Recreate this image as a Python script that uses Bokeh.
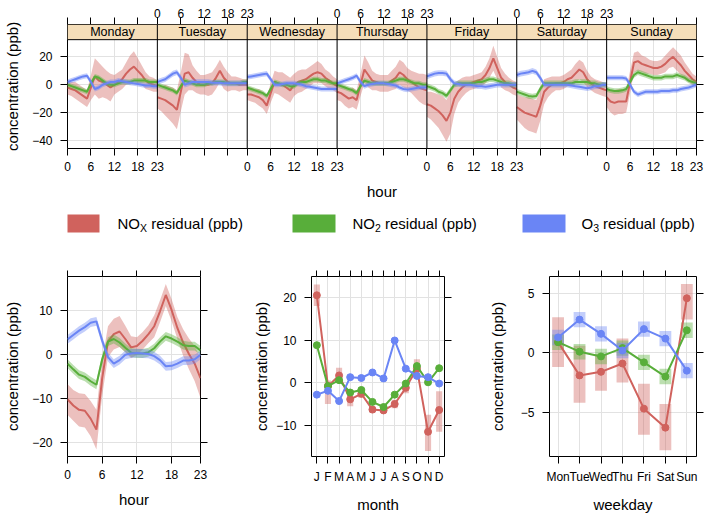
import numpy as np
from bokeh.plotting import figure
from bokeh.layouts import column, row
from bokeh.models import Range1d, FixedTicker, LinearAxis
from bokeh.embed import file_html
from bokeh.resources import INLINE
from bokeh.core.properties import value

FONT = "Liberation Sans"
RED, GREEN, BLUE = "#D0625D", "#58AE3A", "#6A85F5"
STRIP = "#F5DEB9"
GRID = "#E2E2E2"

# ---------------- data ----------------
days = ["Monday", "Tuesday", "Wednesday", "Thursday", "Friday", "Saturday", "Sunday"]
hours = list(range(24))
hour_ticks = [0, 6, 12, 18, 23]

nox_day = [
    [-2, -3, -4, -6, -8, -10, -2, 6, 3, 2, 0, -2, 0, 2, 4, 8, 11, 13, 10, 7, 3, 1, 0, -1],
    [-9, -10, -11, -13, -15, -18, -5, 8, 9, 5, 2, 0, 0, 0, 1, 5, 10, 5, 2, 1, 1, 0, 0, 0],
    [-7, -7, -8, -9, -11, -15, -6, 2, 1, 0, -2, -4, 0, 2, 3, 4, 6, 8, 9, 8, 5, 3, 1, -1],
    [-5, -6, -8, -10, -9, -11, 0, 11, 7, 3, 2, 1, 1, 1, 3, 5, 9, 7, 4, 2, 0, -2, -3, -4],
    [-14, -15, -17, -19, -22, -26, -20, -10, -5, -2, 0, 1, 2, 3, 4, 7, 12, 19, 12, 5, 2, 0, -2, -3],
    [-16, -18, -20, -21, -22, -23, -15, -5, -2, 0, 1, 1, 2, 4, 5, 8, 11, 9, 4, 1, -1, -2, -3, -4],
    [-9, -12, -13, -12, -12, -12, 2, 16, 17, 15, 14, 13, 12, 12, 13, 15, 18, 20, 17, 14, 10, 7, 4, 2],
]
nox_day_ci = [
    [5, 5, 6, 6, 6, 6, 9, 13, 13, 11, 10, 10, 7, 7, 7, 8, 10, 11, 9, 7, 6, 5, 5, 4],
    [8, 9, 11, 12, 13, 14, 14, 15, 13, 9, 8, 7, 7, 8, 8, 8, 8, 8, 7, 5, 5, 5, 4, 4],
    [4, 5, 5, 6, 6, 6, 7, 8, 8, 9, 9, 9, 8, 8, 8, 7, 7, 7, 8, 7, 6, 6, 5, 5],
    [6, 6, 7, 7, 7, 7, 8, 10, 9, 7, 6, 6, 6, 6, 7, 8, 9, 9, 8, 8, 9, 10, 11, 11],
    [9, 10, 11, 12, 14, 15, 15, 11, 8, 7, 6, 5, 5, 5, 5, 6, 7, 9, 8, 7, 6, 5, 5, 5],
    [9, 10, 11, 12, 12, 12, 11, 9, 7, 6, 5, 5, 5, 5, 6, 7, 7, 7, 6, 5, 5, 5, 5, 5],
    [7, 8, 9, 9, 9, 8, 8, 7, 7, 6, 6, 5, 5, 5, 5, 6, 6, 7, 7, 7, 6, 5, 4, 4],
]
no2_day = [
    [0, -1, -2, -3, -4, -5, 1, 6, 5, 3, 1, 0, 0, 1, 2, 2, 2, 3, 3, 3, 3, 2, 2, 2],
    [0, -1, -2, -3, -4, -6, -1, 3, 2, 1, 0, 0, 0, 1, 1, 2, 2, 2, 1, 1, 1, 1, 2, 2],
    [-2, -3, -4, -5, -6, -8, -3, 2, 1, 0, 0, -1, -1, 1, 2, 2, 3, 4, 4, 3, 3, 2, 1, 1],
    [0, -1, -2, -3, -4, -6, -1, 3, 2, 1, 1, 1, 1, 1, 2, 3, 4, 4, 3, 2, 1, 1, 0, 0],
    [-1, -2, -3, -5, -6, -8, -4, 0, 1, 1, 1, 1, 1, 2, 2, 3, 4, 4, 3, 2, 1, 1, 0, 0],
    [-5, -6, -7, -8, -8.5, -8, -3, 1, 1, 1, 1, 1, 1, 1, 1, 2, 2, 2, 2, 1, 1, 0, 0, 0],
    [-3, -4, -4.5, -4.5, -4, -3, 2, 7, 9, 8, 7, 6, 5, 5, 5, 6, 6, 6, 7, 6, 5, 3, 2, 1],
]
no2_day_ci = [1.8, 1.8, 1.8, 1.8, 2.0, 2.0, 2.0]
o3_day = [
    [2, 3, 4, 5, 6, 6.5, 2, -3, -2, 0, 1, 2, 2, 3, 2.5, 2, 1.5, 1, 0.5, 0, -0.5, -0.5, -1, -1],
    [2, 3, 4, 6, 8, 9, 5, 0, 1, 2, 2, 2, 2, 2, 1.5, 1.5, 1.5, 1, 1, 1, 1, 1, 1, 1],
    [5.5, 6, 6.5, 7, 7.5, 8, 4, 0, 0, 0.5, 1, 1, 1, 0.5, 0, -1, -1.5, -2, -2.5, -3, -3, -3, -3, -3],
    [1, 2, 3, 4, 5, 6.5, 2, -1, 0, 0.5, 1, 1, 1, 0.5, 0, -0.5, -2, -3, -3.5, -3, -2.5, -2, -2, -2],
    [6, 7, 8, 8.5, 8.5, 8, 4, 1, 0.5, 0, 0, 0, -0.5, -1, -1, -1.5, -1, -0.5, 0, 0, 0, 0, 0, 0],
    [7, 8, 8.5, 9, 10, 9, 5, 0, 0, 0, 0, 0, 0, 0, -0.5, -1, -1.5, -2, -2.5, -2, -1, -1, 0, 0],
    [5, 5, 5, 5, 5, 4.5, 0, -5, -7, -6, -5, -5, -5, -5, -4.5, -4.5, -4.5, -4, -4, -3, -2.5, -2, -1, 0],
]
o3_day_ci = [1.8, 2.0, 1.8, 1.8, 2.0, 2.0, 1.8]

# hour (all days)
nox_hr = [-10.1, -11.5, -12.5, -12.7, -14.5, -17, -5.3, 3, 4.7, 5.3, 3.6, 1.7, 2, 3.2, 4.7, 6.5, 9.9, 13.6, 10.2, 6.1, 2.8, 0.2, -2, -5.3]
nox_hr_ci = [3.5, 3.5, 3.8, 3.8, 4, 4.5, 4, 3.5, 3.5, 3.5, 3, 2.5, 2, 2, 2, 2.5, 2.5, 2.5, 2.5, 2.5, 3, 3.5, 4, 4.5]
no2_hr = [-2, -3.3, -4.5, -5, -6, -6.8, -1, 3, 3.6, 2.8, 1.6, 0.5, 0.3, 0.3, 0.6, 1.5, 3, 4.2, 3.7, 3, 2.2, 2, 2, 1]
o3_hr = [3.5, 4.5, 5.5, 6.3, 7.3, 7.6, 3.2, -0.5, -2, -1.2, 0, 0.3, 0.4, 0.3, 0.2, -0.3, -1.2, -2.6, -2.5, -2, -1.3, -1.3, -1, 0]
no2_hr_ci = 1.0
o3_hr_ci = 1.0

# month
months = list(range(1, 13))
month_labels = ["J", "F", "M", "A", "M", "J", "J", "A", "S", "O", "N", "D"]
nox_mon = [20.5, -0.8, 1.7, -3.9, -2.6, -6.3, -6.5, -5, -1.2, 3.3, -11.5, -6.4]
nox_mon_lo = [18, -5, 0, -5.5, -3.5, -7, -7, -6, -2.5, 1.5, -16, -11.5]
nox_mon_hi = [23, 0.5, 3.5, -2, -1.5, -5.5, -6, -4, 0, 5.5, -7.5, -2]
no2_mon = [8.8, -0.8, 0.6, -2.3, -1.7, -4.5, -5.7, -2.8, -0.2, 3.9, 0.1, 3.4]
o3_mon = [-2.8, -1.9, -4.3, 1.3, 1.1, 2.4, 1.0, 9.9, 3.3, 1.6, 1.3, -0.2]
no2_mon_ci = 0.6
o3_mon_ci = 0.6

# weekday
wdays = list(range(1, 8))
wday_labels = ["Mon", "Tue", "Wed", "Thu", "Fri", "Sat", "Sun"]
nox_wd = [0.9, -1.9, -1.6, -0.9, -4.7, -6.3, 4.6]
nox_wd_lo = [-1.2, -4.2, -3.2, -2.5, -6.9, -8.2, 2.8]
nox_wd_hi = [3.0, 0.6, -0.1, 1.2, -2.6, -4.3, 5.8]
no2_wd = [0.9, 0.1, -0.3, 0.4, -0.8, -2.0, 1.9]
o3_wd = [1.3, 2.8, 1.6, 0.2, 2.0, 1.2, -1.5]
no2_wd_ci = 0.65
o3_wd_ci = 0.65


def mlab(v):
    return str(v).replace("-", "\u2212")


def style_axis(ax, ticks, labels=None, title=None, label_standoff=5,
               title_standoff=8, tick_out=7):
    ax.ticker = FixedTicker(ticks=list(ticks), minor_ticks=[])
    if labels is None:
        ax.major_label_overrides = {t: "" for t in ticks}
    else:
        ax.major_label_overrides = {t: l for t, l in zip(ticks, labels)}
    ax.major_tick_out = tick_out
    ax.major_tick_in = 0
    ax.minor_tick_out = 0
    ax.minor_tick_in = 0
    ax.axis_line_color = None
    ax.major_tick_line_color = "black"
    ax.major_label_text_font = FONT
    ax.major_label_text_font_size = "12px"
    ax.major_label_text_color = "black"
    ax.major_label_standoff = label_standoff
    if title:
        ax.axis_label = title
        ax.axis_label_text_font = FONT
        ax.axis_label_text_font_size = "15px"
        ax.axis_label_text_font_style = "normal"
        ax.axis_label_text_color = "black"
        ax.axis_label_standoff = title_standoff


W = 705
NSPAN = 23
YLO, YPANEL, YTOP = -45.8, 32.4, 43.3
FRAME_L, FRAME_R = 67, 696

# ---------------- top panel ----------------
p1 = figure(width=W, height=208, x_range=Range1d(0, 7 * NSPAN), y_range=Range1d(YLO, YTOP),
            output_backend="svg", toolbar_location=None,
            min_border_left=FRAME_L, min_border_right=W - FRAME_R, min_border_top=24, min_border_bottom=60)
p1.outline_line_color = "black"
p1.add_layout(LinearAxis(), "above")
p1.add_layout(LinearAxis(), "right")

xt = sorted(set(d * NSPAN + h for d in range(7) for h in hour_ticks))
bottom_lab = {x: "" for x in xt}
top_lab = {x: "" for x in xt}
for d in range(7):
    target = bottom_lab if d % 2 == 0 else top_lab
    for h in hour_ticks:
        target[d * NSPAN + h] = str(h)
style_axis(p1.below[0], xt, [bottom_lab[x] for x in xt], title="hour", label_standoff=6, title_standoff=9)
style_axis(p1.above[0], xt, [top_lab[x] for x in xt], label_standoff=0, tick_out=7)
yt = [-40, -20, 0, 20]
style_axis(p1.left[0], yt, [mlab(v) for v in yt], title="concentration (ppb)", label_standoff=8, title_standoff=8)
style_axis(p1.right[0], yt, None, label_standoff=0)

p1.xgrid.ticker = FixedTicker(ticks=xt, minor_ticks=[])
p1.ygrid.ticker = FixedTicker(ticks=yt, minor_ticks=[])
p1.grid.grid_line_color = GRID

for d in range(7):
    x = [d * NSPAN + h for h in hours]
    for vals, ci, col in [(nox_day[d], np.array(nox_day_ci[d]), RED),
                          (no2_day[d], no2_day_ci[d], GREEN),
                          (o3_day[d], o3_day_ci[d], BLUE)]:
        v = np.array(vals, dtype=float)
        p1.varea(x=x, y1=v - ci, y2=v + ci, fill_color=col, fill_alpha=0.4)
        p1.line(x, v, line_color=col, line_width=2)

# strips
p1.quad(left=0, right=7 * NSPAN, bottom=YPANEL, top=YTOP, fill_color=STRIP, line_color=None)
p1.line([0, 7 * NSPAN], [YPANEL, YPANEL], line_color="black", line_width=1)
bounds = [d * NSPAN for d in range(1, 7)]
p1.segment(x0=bounds, y0=YLO, x1=bounds, y1=YTOP, line_color="black", line_width=1)
p1.text(x=[d * NSPAN + NSPAN / 2 for d in range(7)], y=(YPANEL + YTOP) / 2, text=days,
        text_font=value(FONT), text_font_size="12.5px", text_align="center",
        text_baseline="middle", text_color="black")

# ---------------- legend (frame aligned with the top panel frame; x in page pixels) ----------------
leg = figure(width=W, height=42, x_range=Range1d(FRAME_L, FRAME_R), y_range=Range1d(42, 0),
             output_backend="svg", toolbar_location=None,
             min_border_left=FRAME_L, min_border_right=W - FRAME_R, min_border_top=0, min_border_bottom=0,
             x_axis_location=None, y_axis_location=None)
leg.outline_line_color = None
leg.grid.visible = False
leg.quad(left=[56, 292, 522], right=[99, 335, 565], top=6, bottom=24,
         fill_color=[RED, GREEN, BLUE], line_color=None)
big = dict(text_font=value(FONT), text_font_size="15px", text_baseline="middle", text_color="black")
small = dict(text_font=value(FONT), text_font_size="10.5px", text_baseline="middle", text_color="black")
leg.text(x=[117, 352, 581], y=15, text=["NO", "NO", "O"], **big)
leg.text(x=[139.5, 374.5, 592.7], y=19.5, text=["X", "2", "3"], **small)
leg.text(x=[150.7, 384.5, 602.5], y=15, text=["residual (ppb)"] * 3, **big)


# ---------------- bottom panels ----------------
def small_fig(width, left, right, xr, yr):
    f = figure(width=width, height=265, x_range=Range1d(*xr), y_range=Range1d(*yr),
               output_backend="svg", toolbar_location=None,
               min_border_left=left, min_border_right=right, min_border_top=26, min_border_bottom=55)
    f.outline_line_color = "black"
    f.add_layout(LinearAxis(), "above")
    f.add_layout(LinearAxis(), "right")
    f.grid.grid_line_color = GRID
    return f


def setup_axes(f, xticks, xlabels, xtitle, yticks, title_standoff):
    style_axis(f.below[0], xticks, xlabels, title=xtitle, label_standoff=6, title_standoff=9)
    style_axis(f.above[0], xticks, None, label_standoff=0, tick_out=6)
    style_axis(f.left[0], yticks, [mlab(v) for v in yticks], title="concentration (ppb)",
               label_standoff=8, title_standoff=title_standoff)
    style_axis(f.right[0], yticks, None, label_standoff=0)
    f.xgrid.ticker = FixedTicker(ticks=list(xticks), minor_ticks=[])
    f.ygrid.ticker = FixedTicker(ticks=list(yticks), minor_ticks=[])


# hour
fh = small_fig(250, 67, 50, (0, 23), (-23.1, 17.8))
setup_axes(fh, hour_ticks, [str(h) for h in hour_ticks], "hour", [-20, -10, 0, 10], 8)
for vals, ci, col in [(nox_hr, np.array(nox_hr_ci), RED), (no2_hr, no2_hr_ci, GREEN), (o3_hr, o3_hr_ci, BLUE)]:
    v = np.array(vals, dtype=float)
    fh.varea(x=hours, y1=v - ci, y2=v + ci, fill_color=col, fill_alpha=0.4)
    fh.line(hours, v, line_color=col, line_width=2)

# month
fm = small_fig(235, 61, 41, (0.52, 12.48), (-17.3, 24.9))
setup_axes(fm, months, month_labels, "month", [-10, 0, 10, 20], 3)
BW = 0.55
fm.vbar(x=months, width=BW, bottom=nox_mon_lo, top=nox_mon_hi, fill_color=RED, fill_alpha=0.4, line_color=None)
for vals, ci, col in [(no2_mon, no2_mon_ci, GREEN), (o3_mon, o3_mon_ci, BLUE)]:
    v = np.array(vals, dtype=float)
    fm.vbar(x=months, width=BW, bottom=v - ci, top=v + ci, fill_color=col, fill_alpha=0.4, line_color=None)
for vals, col in [(nox_mon, RED), (no2_mon, GREEN), (o3_mon, BLUE)]:
    fm.line(months, vals, line_color=col, line_width=2)
    fm.scatter(months, vals, size=7, fill_color=col, line_color=col)

# weekday
fw = small_fig(220, 63, 9, (0.6, 7.45), (-8.73, 6.43))
setup_axes(fw, wdays, wday_labels, "weekday", [-5, 0, 5], 12)
fw.vbar(x=wdays, width=BW, bottom=nox_wd_lo, top=nox_wd_hi, fill_color=RED, fill_alpha=0.4, line_color=None)
for vals, ci, col in [(no2_wd, no2_wd_ci, GREEN), (o3_wd, o3_wd_ci, BLUE)]:
    v = np.array(vals, dtype=float)
    fw.vbar(x=wdays, width=BW, bottom=v - ci, top=v + ci, fill_color=col, fill_alpha=0.4, line_color=None)
for vals, col in [(nox_wd, RED), (no2_wd, GREEN), (o3_wd, BLUE)]:
    fw.line(wdays, vals, line_color=col, line_width=2)
    fw.scatter(wdays, vals, size=7, fill_color=col, line_color=col)

layout = column(p1, leg, row(fh, fm, fw))
open("out.html", "w").write(file_html(layout, INLINE))
